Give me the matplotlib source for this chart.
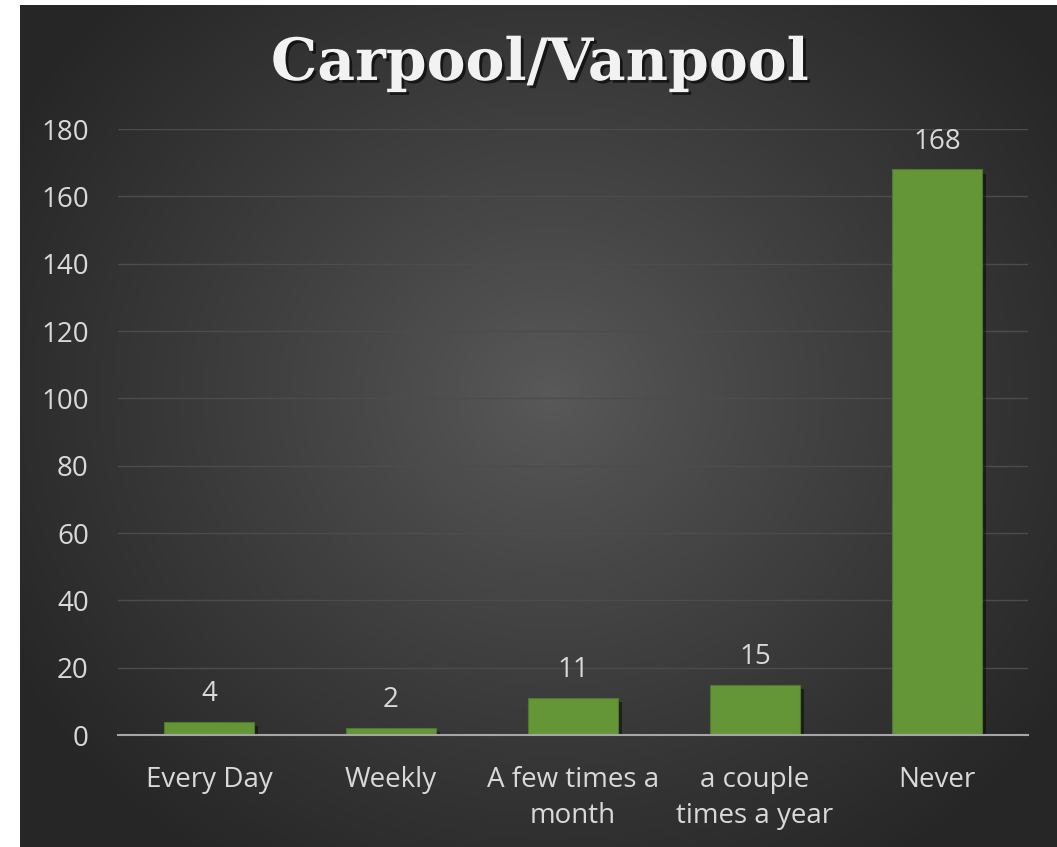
import matplotlib.pyplot as plt
import matplotlib.patheffects as pe
import numpy as np

categories = ["Every Day", "Weekly", "A few times a\nmonth", "a couple\ntimes a year", "Never"]
counts = [4, 2, 11, 15, 168]
y_ticks = [0, 20, 40, 60, 80, 100, 120, 140, 160, 180]

W, H = 1057, 847
fig = plt.figure(figsize=(W / 100, H / 100), dpi=100)
fig.patch.set_facecolor("white")

# dark radial gradient panel
bg = fig.add_axes([20 / W, 0, 1 - 20 / W, 1 - 5 / H])
bg.set_axis_off()
yy, xx = np.mgrid[0:842, 0:1037]
cx, cy = 530, 390
d = np.sqrt(((xx - cx) / 620.0) ** 2 + ((yy - cy) / 560.0) ** 2)
d = np.clip(d, 0, 1)
val = 0.35 - (0.35 - 0.15) * d ** 0.9
bg.imshow(np.dstack([val, val, val]), aspect="auto", interpolation="bilinear")

ax = fig.add_axes([118 / W, 1 - 735 / H, (1028 - 118) / W, (735 - 129) / H])
ax.set_facecolor("none")
x = np.arange(len(categories))
bars = ax.bar(x, counts, width=0.49, color="#649537", edgecolor="#4d7a2a", linewidth=0.8, zorder=3)
for b in bars:
    b.set_path_effects([pe.SimplePatchShadow(offset=(3, -3), shadow_rgbFace="black", alpha=0.45), pe.Normal()])

ax.set_xlim(-0.5, len(categories) - 0.5)
ax.set_ylim(0, 180)
ax.set_yticks(y_ticks)
ax.grid(axis="y", color="#4c4c4c", linewidth=1.0, zorder=0)
ax.set_axisbelow(True)
for s in ["top", "right", "left"]:
    ax.spines[s].set_visible(False)
ax.spines["bottom"].set_color("#a6a6a6")
ax.spines["bottom"].set_linewidth(1.5)
ax.spines["bottom"].set_zorder(4)
ax.tick_params(length=0, colors="#d9d9d9", labelsize=20)
ax.tick_params(axis="y", pad=21)
ax.tick_params(axis="x", pad=22)
ax.set_xticks(x)
ax.set_xticklabels(categories, fontfamily="Open Sans", linespacing=1.4)
for lab in ax.get_yticklabels():
    lab.set_fontfamily("Open Sans")

for xi, v in zip(x, counts):
    ax.annotate(str(v), (xi, v), xytext=(0, 10), textcoords="offset points",
                ha="center", va="bottom", color="#d9d9d9", fontsize=20, fontfamily="Open Sans")

fig.text(540 / W, 1 - 64 / H, "Carpool/Vanpool", ha="center", va="center",
         fontsize=42, fontweight="bold", fontfamily="DejaVu Serif", color="#f2f2f2",
         path_effects=[pe.withSimplePatchShadow(offset=(2, -2), shadow_rgbFace="black", alpha=0.6)])

fig.savefig("out.png", dpi=100)
